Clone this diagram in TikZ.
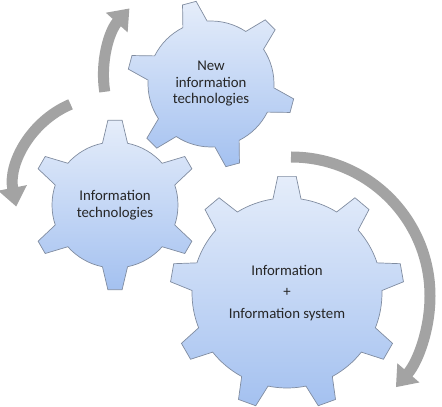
\documentclass[tikz,border=0pt]{standalone}
\usepackage{fontspec}
\setmainfont{Carlito}
\usetikzlibrary{arrows.meta}
\definecolor{geartop}{RGB}{229,237,250}
\definecolor{gearbot}{RGB}{164,193,240}
\definecolor{gearrim}{RGB}{128,140,160}
\definecolor{cyclegray}{RGB}{163,163,163}

\begin{document}
\begin{tikzpicture}[x=1pt, y=1pt,
  cog/.style={top color=geartop, bottom color=gearbot, draw=gearrim,
              line width=0.7pt, line join=miter},
  lbl/.style={font=\fontsize{14.8}{16.5}\selectfont, align=center, text=black!85},
  cyc/.style={draw=cyclegray, line width=11pt,
              -{Triangle[length=19pt, width=28pt]}}
]
  \useasboundingbox (0,0) rectangle (442,407);

  \coordinate (gNew) at (211,323);
  \coordinate (gIT)  at (115,202);
  \coordinate (gIS)  at (287,114);

  % turning arrows
  \coordinate (aUp)  at (204.5,331);
  \coordinate (aLow) at (106.5,218);
  \coordinate (aBig) at (291,111);
  \draw[cyc] (aUp) ++(189:101) arc[start angle=189, end angle=138, radius=101];
  \draw[cyc] (aLow) ++(113:92) arc[start angle=113, end angle=191, radius=92];
  \draw[cyc] (aBig) ++(90:139) arc[start angle=90, end angle=-41, radius=139];

  % gears
  \path[cog, shift={(gNew)}] (33.5:63)
    \foreach \t in {45,105,...,345} {
      -- ({\t-11.5}:63) -- ({\t-4.8}:84) -- ({\t+4.8}:84) -- ({\t+11.5}:63)
      arc[start angle={\t+11.5}, end angle={\t+48.5}, radius=63]
    } -- cycle;
  \path[cog, shift={(gIT)}] (18.5:63)
    \foreach \t in {30,90,...,330} {
      -- ({\t-11.5}:63) -- ({\t-4.8}:85) -- ({\t+4.8}:85) -- ({\t+11.5}:63)
      arc[start angle={\t+11.5}, end angle={\t+48.5}, radius=63]
    } -- cycle;
  \path[cog, shift={(gIS)}] (1.5:95)
    \foreach \t in {10,50,...,330} {
      -- ({\t-8.5}:95) -- ({\t-4.5}:117) -- ({\t+4.5}:117) -- ({\t+8.5}:95)
      arc[start angle={\t+8.5}, end angle={\t+31.5}, radius=95]
    } -- cycle;

  \node[lbl] (tNew) at (gNew) {New\\information\\technologies};
  \node[lbl] (tIT)  at (gIT)  {Information\\technologies};
  \node[lbl] (tIS)  at (gIS)  {Information\\[5pt]+\\[5pt]Information system};

\end{tikzpicture}
\end{document}
